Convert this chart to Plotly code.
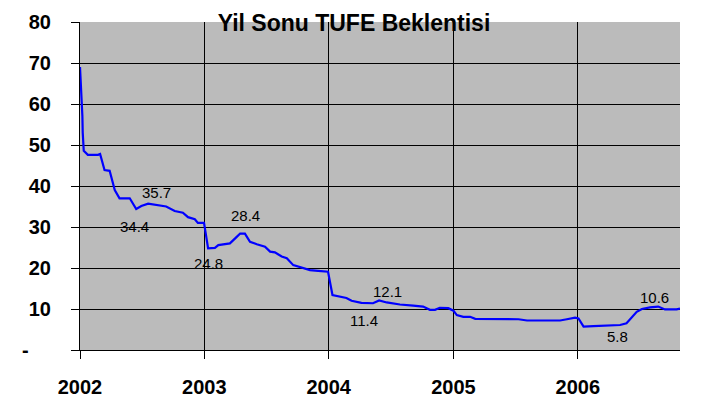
import plotly.graph_objects as go

# ---- data ----
dates = [
    "2002-01-01", "2002-01-04", "2002-01-05", "2002-01-08", "2002-01-09", "2002-01-12",
    "2002-01-24", "2002-02-23", "2002-03-01", "2002-03-14", "2002-03-29", "2002-04-13",
    "2002-04-27", "2002-05-27", "2002-06-15", "2002-06-30", "2002-07-20", "2002-08-18",
    "2002-09-11", "2002-10-06", "2002-10-30", "2002-11-14", "2002-12-04", "2002-12-13",
    "2002-12-31", "2003-01-12", "2003-02-01", "2003-02-11", "2003-03-08", "2003-03-17",
    "2003-04-06", "2003-04-16", "2003-04-30", "2003-05-15", "2003-06-04", "2003-06-28",
    "2003-07-13", "2003-07-27", "2003-08-16", "2003-08-31", "2003-09-19", "2003-10-09",
    "2003-11-07", "2003-12-01", "2003-12-30", "2004-01-12", "2004-02-07", "2004-02-22",
    "2004-03-08", "2004-04-06", "2004-05-10", "2004-05-28", "2004-06-19", "2004-07-28",
    "2004-09-05", "2004-10-04", "2004-10-24", "2004-11-08", "2004-11-22", "2004-12-17",
    "2005-01-01", "2005-01-11", "2005-01-30", "2005-02-19", "2005-03-06", "2005-07-11",
    "2005-08-05", "2005-11-10", "2005-11-30", "2005-12-24", "2006-01-03", "2006-01-18",
    "2006-02-16", "2006-05-05", "2006-05-24", "2006-06-23", "2006-07-08", "2006-08-01",
    "2006-08-25", "2006-09-14", "2006-10-18", "2006-10-28",
]
expectation = [
    69.0, 65.0, 61.0, 57.0, 53.0, 48.6,
    47.6, 47.6, 47.8, 43.9, 43.7, 39.0,
    37.0, 37.0, 34.4, 35.1, 35.7, 35.4,
    35.0, 33.9, 33.5, 32.4, 31.9, 31.0,
    31.0, 24.8, 24.9, 25.6, 25.8, 26.0,
    27.6, 28.4, 28.4, 26.4, 25.8, 25.2,
    24.0, 23.8, 22.8, 22.4, 20.7, 20.2,
    19.5, 19.3, 19.1, 13.4, 12.9, 12.7,
    12.0, 11.5, 11.4, 12.1, 11.6, 11.1,
    10.8, 10.6, 9.8, 9.8, 10.3, 10.2,
    9.6, 8.5, 8.1, 8.1, 7.6, 7.5,
    7.2, 7.2, 7.5, 7.9, 7.7, 5.7,
    5.8, 6.1, 6.5, 9.3, 10.0, 10.4,
    10.6, 9.9, 9.9, 10.1,
]

year_ticks = ["2002-01-01", "2003-01-01", "2004-01-01", "2005-01-01", "2006-01-01"]
year_labels = ["2002", "2003", "2004", "2005", "2006"]
y_ticks = [0, 10, 20, 30, 40, 50, 60, 70, 80]
y_labels = ["-\u00a0\u00a0\u00a0\u00a0", "10", "20", "30", "40", "50", "60", "70", "80"]

# labelled points: index into the series, plus label offsets (px)
label_index = [16, 14, 31, 25, 51, 50, 72, 78]
label_shift = [(8, 11), (-2, -18), (5, 18), (0, -15), (8, 9), (-9, -17), (24, -10), (-4, 9)]

title_text = "Yil Sonu TUFE Beklentisi"

FONT = "Arial, Liberation Sans, sans-serif"

fig = go.Figure()
fig.add_trace(go.Scatter(
    x=dates, y=expectation, mode="lines",
    line=dict(color="#0000ff", width=2.2),
    hoverinfo="x+y", showlegend=False,
))

annotations = []
for idx, (dx, dy) in zip(label_index, label_shift):
    annotations.append(dict(
        x=dates[idx], y=expectation[idx], xref="x", yref="y",
        text=f"{expectation[idx]:.1f}", showarrow=False,
        xshift=dx, yshift=dy,
        font=dict(family=FONT, size=15, color="#000000"),
    ))

fig.update_layout(
    width=720, height=410,
    margin=dict(l=80, r=40, t=22, b=60, autoexpand=False),
    paper_bgcolor="#ffffff",
    plot_bgcolor="#bbbbbb",
    font=dict(family=FONT, color="#000000"),
    title=dict(
        text=title_text, xref="container", yref="container",
        x=354 / 720, y=1 - 23 / 410, xanchor="center", yanchor="middle",
        automargin=False,
        font=dict(family=FONT, size=23, color="#000000", weight="bold"),
    ),
    annotations=annotations,
    xaxis=dict(
        range=["2002-01-01", "2006-10-28"],
        tickvals=year_ticks, ticktext=year_labels,
        showgrid=True, gridcolor="#000000", gridwidth=1,
        showline=True, linecolor="#000000", linewidth=1,
        ticks="outside", ticklen=8, tickcolor="#000000",
        ticklabelstandoff=11, automargin=False,
        tickfont=dict(family=FONT, size=20, color="#000000", weight="bold"),
        zeroline=False, fixedrange=True,
    ),
    yaxis=dict(
        range=[0, 80],
        tickvals=y_ticks, ticktext=y_labels,
        showgrid=True, gridcolor="#000000", gridwidth=1,
        showline=True, linecolor="#000000", linewidth=1,
        ticks="outside", ticklen=8, tickcolor="#000000",
        ticklabelstandoff=16, automargin=False,
        tickfont=dict(family=FONT, size=20, color="#000000", weight="bold"),
        zeroline=False, fixedrange=True,
    ),
)

fig.write_html(
    "out.html",
    config={"displayModeBar": False},
    post_script="document.body.style.margin='0';document.body.style.padding='0';",
)
